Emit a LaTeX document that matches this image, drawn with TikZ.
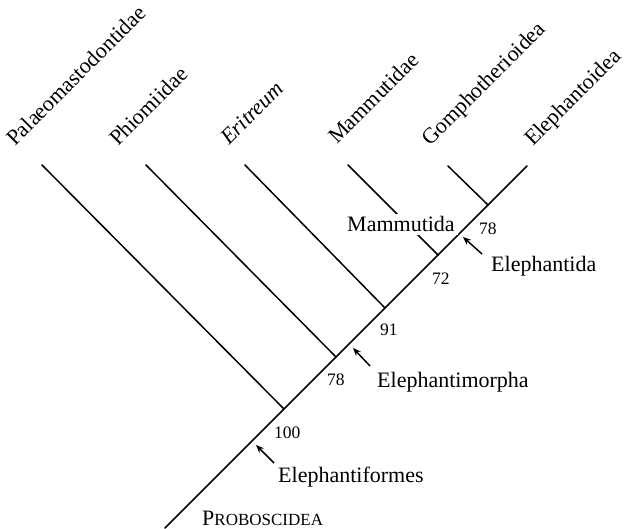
\documentclass[tikz,border=0pt]{standalone}
\usepackage{fontspec}
\setmainfont{Liberation Serif}
\usetikzlibrary{arrows, arrows.meta, positioning}

\begin{document}
\begin{tikzpicture}[
        x = 1pt, y = -1pt,
        branch/.style = {line width=1.5pt, black, line cap=round},
        taxon/.style = {rotate=45, anchor=base west, inner sep=0pt, font=\fontsize{22}{26}\selectfont},
        clade/.style = {anchor=base west, inner sep=0pt, font=\fontsize{22}{26}\selectfont},
        support/.style = {anchor=base west, inner sep=0pt, font=\fontsize{17.5}{20}\selectfont},
        arrow/.style = {line width=1.5pt, -{Stealth[length=8pt, width=6.5pt]}}
    ]
        \useasboundingbox (0,0) rectangle (626,529);

        % Branch points on the spine
        \coordinate (root) at (165,528);
        \coordinate (n100) at (284,409);
        \coordinate (n78a) at (336,357);
        \coordinate (n91) at (385,308);
        \coordinate (n72) at (438,255);
        \coordinate (n78b) at (488,205);

        % Tips
        \coordinate (palaeo) at (42,165);
        \coordinate (phiom) at (146,165);
        \coordinate (eritr) at (245,165);
        \coordinate (mammut) at (348,165);
        \coordinate (gompho) at (448,166);
        \coordinate (elepha) at (527,166);

        % Branches
        \draw [branch] (root) -- (elepha);
        \draw [branch] (n100) -- (palaeo);
        \draw [branch] (n78a) -- (phiom);
        \draw [branch] (n91) -- (eritr);
        \draw [branch] (n72) -- (mammut);
        \draw [branch] (n78b) -- (gompho);

        % Taxon names
        \node [taxon] (t_palaeo) at (15,147) {Palaeomastodontidae};
        \node [taxon] (t_phiom) at (118,147) {Phiomiidae};
        \node [taxon] (t_eritr) at (229,146) {\itshape Eritreum};
        \node [taxon] (t_mammut) at (337,145) {Mammutidae};
        \node [taxon] (t_gompho) at (430,147) {Gomphotherioidea};
        \node [taxon] (t_elepha) at (533,147) {Elephantoidea};

        % Support values
        \node [support] (s78b) at (479,235) {78};
        \node [support] (s72) at (432,284) {72};
        \node [support] (s91) at (380,335) {91};
        \node [support] (s78a) at (327,385) {78};
        \node [support] (s100) at (274,438) {100};

        % Clade names
        \node [clade, fill=white, inner sep=3pt] (mammutida) at (344,232) {Mammutida};
        \node [clade] (elephantida) at (491,271) {Elephantida};
        \node [clade] (elephantimorpha) at (377,387) {Elephantimorpha};
        \node [clade] (elephantiformes) at (278,482) {Elephantiformes};
        \node [clade] (proboscidea) at (202,525) {P{\fontsize{17}{20}\selectfont ROBOSCIDEA}};

        % Pointers
        \coordinate (a_ida) at (482,254);
        \coordinate (h_ida) at (463,237);
        \coordinate (a_morpha) at (370,366);
        \coordinate (h_morpha) at (353,348);
        \coordinate (a_formes) at (274,463);
        \coordinate (h_formes) at (256,445);
        \draw [arrow] (a_ida) -- (h_ida);
        \draw [arrow] (a_morpha) -- (h_morpha);
        \draw [arrow] (a_formes) -- (h_formes);
    \end{tikzpicture}
\end{document}
